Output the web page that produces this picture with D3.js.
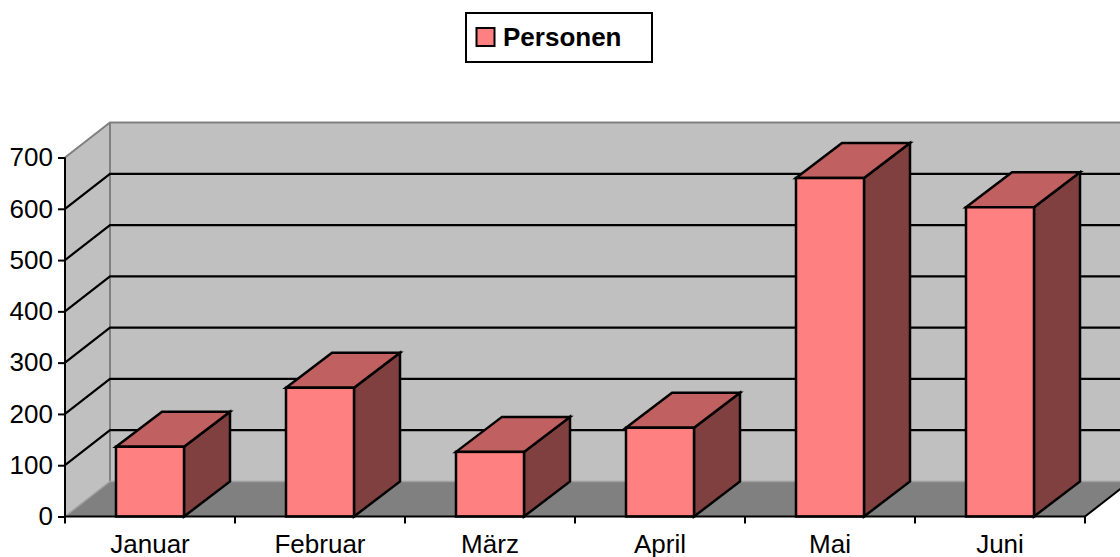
<!DOCTYPE html>
<html>
<head>
<meta charset="utf-8">
<script src="https://cdn.jsdelivr.net/npm/d3@7/dist/d3.min.js"></script>
<style>
  html, body { margin: 0; padding: 0; background: #fff; }
  svg { display: block; font-family: Arial, "Liberation Sans", sans-serif; }
</style>
</head>
<body>
<svg id="chart" width="1120" height="557"></svg>
<script>
// Data
const categories = ['Januar', 'Februar', 'März', 'April', 'Mai', 'Juni'];
const personen = [136, 251, 126, 173, 660, 603];
const yTicks = [0, 100, 200, 300, 400, 500, 600, 700];
const seriesName = 'Personen';

const W = 1120, H = 557;
const plotLeft = 65, plotRight = 1085, plotBottom = 516.5, plotTop = 157.5;
// depth offset of the 3d box (walls) and the bars
const DX = 45, DY = -35;
const BDX = 46, BDY = -35;

const svg = d3.select('#chart');

const x = d3.scaleBand().domain(categories).range([plotLeft, plotRight])
  .paddingInner(0.6).paddingOuter(0.3);
const y = d3.scaleLinear().domain([0, 700]).range([plotBottom, plotTop]);

const pts = a => a.map(p => p.join(',')).join(' ');

// Back wall
svg.append('polygon')
  .attr('points', pts([[plotLeft + DX, y(700) + DY], [plotRight + DX, y(700) + DY], [plotRight + DX, y(0) + DY], [plotLeft + DX, y(0) + DY]]))
  .attr('fill', '#c0c0c0');
// Side wall
svg.append('polygon')
  .attr('points', pts([[plotLeft, y(700)], [plotLeft + DX, y(700) + DY], [plotLeft + DX, y(0) + DY], [plotLeft, y(0)]]))
  .attr('fill', '#c0c0c0');
// Floor
svg.append('polygon')
  .attr('points', pts([[plotLeft, y(0)], [plotLeft + DX, y(0) + DY], [plotRight + DX, y(0) + DY], [plotRight, y(0)]]))
  .attr('fill', '#808080');

// Wall borders (grey)
svg.append('path')
  .attr('d', `M${plotLeft},${y(700)}L${plotLeft + DX},${y(700) + DY}L${W + 20},${y(700) + DY}` +
             `M${plotLeft + DX},${y(700) + DY}L${plotLeft + DX},${y(0) + DY}`)
  .attr('fill', 'none').attr('stroke', '#808080').attr('stroke-width', 2);
svg.append('path')
  .attr('d', `M${plotLeft},${y(0)}L${plotLeft + DX},${y(0) + DY}L${W + 20},${y(0) + DY}`)
  .attr('fill', 'none').attr('stroke', '#a0a0a0').attr('stroke-width', 1.5);
svg.append('line')
  .attr('x1', plotRight).attr('y1', y(0)).attr('x2', plotRight + DX).attr('y2', y(0) + DY)
  .attr('stroke', '#000').attr('stroke-width', 2);

// Gridlines on back and side wall
const grid = yTicks.filter(v => v > 0 && v < 700);
const g = svg.append('g').attr('stroke', '#000').attr('stroke-width', 2.2).attr('fill', 'none');
g.selectAll('path').data(grid).join('path')
  .attr('d', v => `M${plotLeft},${y(v)}L${plotLeft + DX},${y(v) + DY}L${W + 20},${y(v) + DY}`);

// Bars
const bars = svg.append('g').selectAll('g').data(categories.map((c, i) => ({ c, v: personen[i] })))
  .join('g').attr('stroke', '#000').attr('stroke-width', 2.5).attr('stroke-linejoin', 'miter');
bars.each(function (d) {
  const b = d3.select(this);
  const x0 = x(d.c), x1 = x0 + x.bandwidth();
  const y0 = y(0), y1 = y(d.v);
  // side face
  b.append('polygon')
    .attr('points', pts([[x1, y1], [x1 + BDX, y1 + BDY], [x1 + BDX, y0 + BDY], [x1, y0]]))
    .attr('fill', '#804040');
  // top face
  b.append('polygon')
    .attr('points', pts([[x0, y1], [x0 + BDX, y1 + BDY], [x1 + BDX, y1 + BDY], [x1, y1]]))
    .attr('fill', '#c06060');
  // front face
  b.append('rect')
    .attr('x', x0).attr('y', y1).attr('width', x1 - x0).attr('height', y0 - y1)
    .attr('fill', '#ff8080');
});

// Y axis
const yAxis = svg.append('g')
  .attr('transform', `translate(${plotLeft},0)`)
  .call(d3.axisLeft(y).tickValues(yTicks).tickFormat(d3.format('d')).tickSize(7).tickPadding(5));
yAxis.selectAll('path, line').attr('stroke', '#000').attr('stroke-width', 2);
yAxis.select('.domain').attr('d', `M0,${y(700)}V${y(0)}`);
yAxis.selectAll('text').attr('font-size', 26).attr('fill', '#000')
  .attr('font-family', 'Arial, "Liberation Sans", sans-serif');

// X axis: labels at category centres, ticks at boundaries
const xAxis = svg.append('g')
  .attr('transform', `translate(0,${y(0)})`)
  .call(d3.axisBottom(x).tickSize(0).tickPadding(18));
xAxis.select('.domain').attr('d', `M${plotLeft},0H${plotRight}`).attr('stroke', '#000').attr('stroke-width', 2);
xAxis.selectAll('text').attr('font-size', 26).attr('fill', '#000')
  .attr('font-family', 'Arial, "Liberation Sans", sans-serif');
const bounds = categories.map(c => x(c) - x.step() * x.paddingOuter()).concat([plotRight]);
xAxis.selectAll('.bound').data(bounds).join('line').attr('class', 'bound')
  .attr('x1', d => d).attr('x2', d => d).attr('y1', 0).attr('y2', 7)
  .attr('stroke', '#000').attr('stroke-width', 2);

// Legend
const lg = svg.append('g');
lg.append('rect').attr('x', 466).attr('y', 13).attr('width', 186).attr('height', 49)
  .attr('fill', '#fff').attr('stroke', '#000').attr('stroke-width', 2);
lg.append('rect').attr('x', 476.5).attr('y', 28).attr('width', 18).attr('height', 18)
  .attr('fill', '#ff8080').attr('stroke', '#000').attr('stroke-width', 2);
lg.append('text').attr('x', 503).attr('y', 46).attr('font-size', 26).attr('font-weight', 'bold')
  .text(seriesName);
</script>
</body>
</html>
